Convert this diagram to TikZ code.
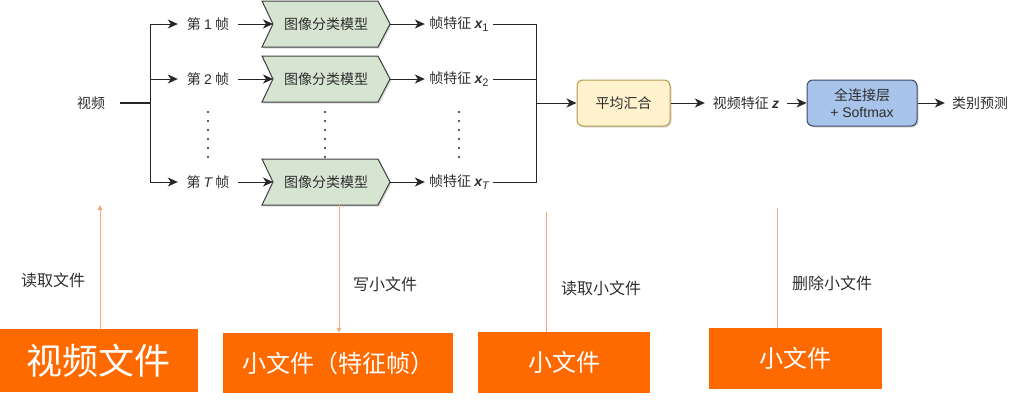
\documentclass[tikz,border=0pt]{standalone}
\usepackage{fontspec}
\setmainfont{Noto Sans CJK SC}
\newfontfamily\lat{Liberation Sans}
\usetikzlibrary{arrows.meta,shadows,calc}
\definecolor{chevfill}{HTML}{D6E4D2}
\definecolor{avgfill}{HTML}{FFF2CC}
\definecolor{avgdraw}{HTML}{B59A4A}
\definecolor{fcfill}{HTML}{A9C4EB}
\definecolor{fcdraw}{HTML}{3C4A66}
\definecolor{orbox}{HTML}{FF6A00}
\definecolor{orline}{HTML}{F5A878}
\definecolor{txt}{HTML}{2E2E2E}
\newcommand{\subs}[1]{\raisebox{-3.5pt}{\lat\fontsize{11}{11}\selectfont #1}}
\begin{document}
\begin{tikzpicture}[x=1pt,y=-1pt,
  font=\fontsize{14}{16}\selectfont, text=txt,
  lbl/.style={inner sep=0pt, minimum height=16pt},
  arr/.style={draw=black!85, line width=1pt, -{Stealth[length=10pt,width=9pt,inset=3pt]}},
  ln/.style={draw=black!85, line width=1pt},
  chev/.style={draw=black!75, fill=chevfill, line width=1pt,
    drop shadow={opacity=0.3, shadow xshift=1.5pt, shadow yshift=-1.5pt}},
  rbox/.style={rounded corners=6pt, line width=1pt, inner sep=0pt,
    drop shadow={opacity=0.3, shadow xshift=1.5pt, shadow yshift=-1.5pt}},
  obox/.style={fill=orbox, text=white, inner sep=0pt},
  oarr/.style={draw=orline, line width=0.9pt, -{Triangle[length=5pt,width=4.5pt]}},
  oln/.style={draw=orline, line width=0.9pt},
  blbl/.style={inner sep=0pt, font=\fontsize{16}{18}\selectfont}
]
\useasboundingbox (0,0) rectangle (1018,405);

% input
\node[lbl, minimum width=58pt] (v) at (91,103) {视频};
\coordinate (sp) at (150,103);
\draw[ln, line width=2pt] (v.east) -- (sp);

% rows
\foreach \i/\cy in {1/24, 2/79, 3/182} {
  \draw[chev] (262,\cy-23) -- (378,\cy-23) -- (390,\cy) -- (378,\cy+23)
    -- (262,\cy+23) -- (273,\cy) -- cycle;
  \coordinate (in\i) at (273,\cy);
  \coordinate (out\i) at (390,\cy);
  \node[lbl] (m\i) at (326,\cy) {图像分类模型};
}
\coordinate (bot3) at (339,205);

\node[lbl, minimum width=60pt] (f1) at (208,24) {第 {\lat 1} 帧};
\node[lbl, minimum width=60pt] (f2) at (208,79) {第 {\lat 2} 帧};
\node[lbl, minimum width=60pt] (f3) at (208,182) {第 {\lat\itshape T} 帧};

\node[lbl, minimum width=68pt] (x1) at (459,24) {帧特征 {\lat\bfseries\itshape x}\subs{1}};
\node[lbl, minimum width=68pt] (x2) at (459,79) {帧特征 {\lat\bfseries\itshape x}\subs{2}};
\node[lbl, minimum width=68pt] (x3) at (459,182) {帧特征 {\lat\bfseries\itshape x}\subs{\itshape T}};

\coordinate (mg) at (536,103);
\foreach \i in {1,2,3} {
  \draw[arr] (sp) |- (f\i.west);
  \draw[arr] (f\i.east) -- (in\i);
  \draw[arr] (out\i) -- (x\i.west);
  \draw[ln] (x\i.east) -| (mg);
}

% vertical dots
\foreach \x in {208,325,459} {
  \foreach \y in {112,121,...,157} {
    \fill[black!85] (\x,\y) circle (1.2pt);
  }
}

% pooling and classifier
\node[rbox, draw=avgdraw, fill=avgfill, minimum width=93pt, minimum height=46pt] (avg) at (623.5,103) {平均汇合};
\node[lbl, minimum width=82pt] (z) at (746,103) {视频特征 {\lat\bfseries\itshape z}};
\node[rbox, draw=fcdraw, fill=fcfill, minimum width=110pt, minimum height=46pt, align=center,
  font=\fontsize{14}{17}\selectfont] (fc) at (862,103) {全连接层\\{\lat + Softmax}};
\node[lbl, minimum width=70pt] (cls) at (980,103) {类别预测};

\draw[arr] (mg) -- (avg.west);
\draw[arr] (avg.east) -- (z.west);
\draw[arr] (z.east) -- (fc.west);
\draw[arr] (fc.east) -- (cls.west);

% bottom file boxes
\node[obox, minimum width=198pt, minimum height=63pt, font=\fontsize{36}{40}\selectfont] (b1) at (99,360.5) {视频文件};
\node[obox, minimum width=230pt, minimum height=60pt, font=\fontsize{24}{28}\selectfont] (b2) at (338,363) {小文件（特征帧）};
\node[obox, minimum width=172pt, minimum height=61pt, font=\fontsize{24}{28}\selectfont] (b3) at (564,362.5) {小文件};
\node[obox, minimum width=173pt, minimum height=61pt, font=\fontsize{24}{28}\selectfont] (b4) at (795.5,358.5) {小文件};

\coordinate (up1) at (100,205);
\coordinate (t3) at (546,212);
\coordinate (t4) at (777,208);
\draw[oarr] (b1.north -| up1) -- (up1);
\draw[oarr] (bot3) -- (b2.north -| bot3);
\draw[oln] (b3.north -| t3) -- (t3);
\draw[oln] (b4.north -| t4) -- (t4);

\node[blbl] (r1) at (53,280) {读取文件};
\node[blbl] (r2) at (385,284) {写小文件};
\node[blbl] (r3) at (601,288) {读取小文件};
\node[blbl] (r4) at (832,283) {删除小文件};
\end{tikzpicture}
\end{document}
